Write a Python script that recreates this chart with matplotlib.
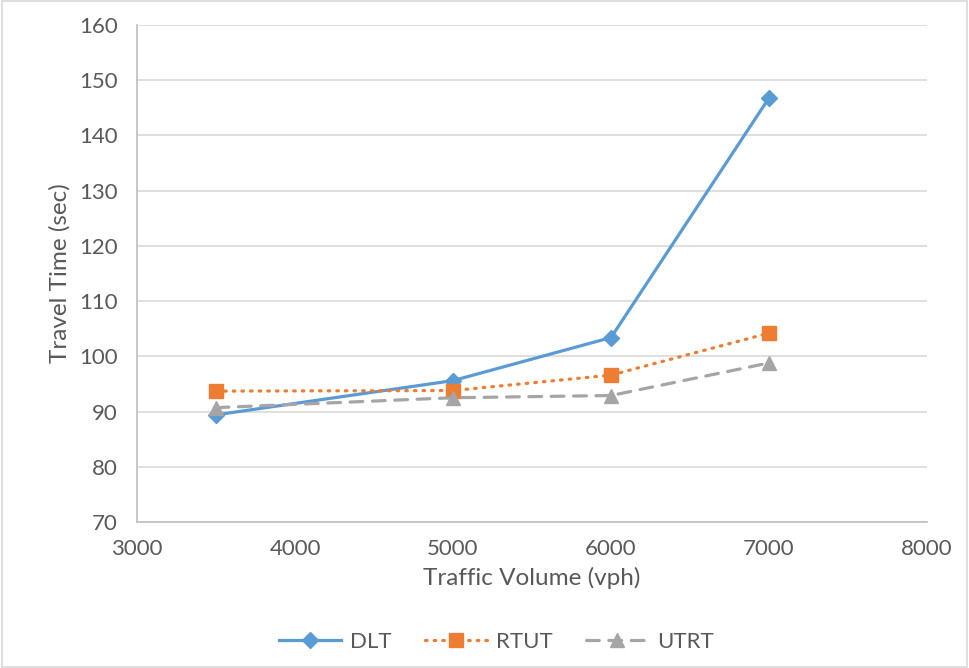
import matplotlib.pyplot as plt
from matplotlib.patches import Rectangle

# Travel time vs traffic volume for the three layouts
volume = [3500, 5000, 6000, 7000]
dlt = [89.4, 95.6, 103.4, 146.8]
rtut = [93.7, 93.8, 96.6, 104.2]
utrt = [90.7, 92.5, 92.9, 98.8]

plt.rcParams['font.family'] = ['Lato', 'DejaVu Sans']
text_col = '#595959'

fig = plt.figure(figsize=(9.69, 6.68), dpi=100)
ax = fig.add_axes([0.1414, 0.2186, 0.8153, 0.744])

ax.plot(volume, dlt, color='#5B9BD5', lw=2.3, marker='D', ms=8, label='DLT')
ax.plot(volume, rtut, color='#ED7D31', lw=2.3, ls=(0, (0.5, 2.2)), dash_capstyle='round',
        marker='s', ms=10, label='RTUT')
ax.plot(volume, utrt, color='#A5A5A5', lw=2.3, ls=(0, (4, 3)), dash_capstyle='round',
        marker='^', ms=10, label='UTRT')

ax.set_xlim(3000, 8000)
ax.set_ylim(70, 160)
ax.set_xticks(range(3000, 8001, 1000))
ax.set_yticks(range(70, 161, 10))
ax.grid(axis='y', color='#d9d9d9', lw=1.2)
ax.set_axisbelow(True)
for side in ['top', 'right']:
    ax.spines[side].set_visible(False)
for side in ['left', 'bottom']:
    ax.spines[side].set_color('#bfbfbf')
    ax.spines[side].set_linewidth(1.2)
ax.tick_params(length=0, labelsize=16, colors=text_col)
ax.tick_params(axis='y', pad=14)
ax.tick_params(axis='x', pad=12)
ax.set_xlabel('Traffic Volume (vph)', fontsize=17.5, color=text_col, labelpad=6)
ax.set_ylabel('Travel Time (sec)', fontsize=17.5, color=text_col, labelpad=6)

leg = fig.legend(loc='center', bbox_to_anchor=(0.512, 0.039), ncol=3, frameon=False,
                 fontsize=16, handlelength=2.8, columnspacing=1.5, handletextpad=0.4)
for t in leg.get_texts():
    t.set_color(text_col)

fig.patches.append(Rectangle((0.002, 0.002), 0.996, 0.996, transform=fig.transFigure,
                             fill=False, edgecolor='#d9d9d9', lw=1.2))

fig.savefig('out.png', dpi=100)
